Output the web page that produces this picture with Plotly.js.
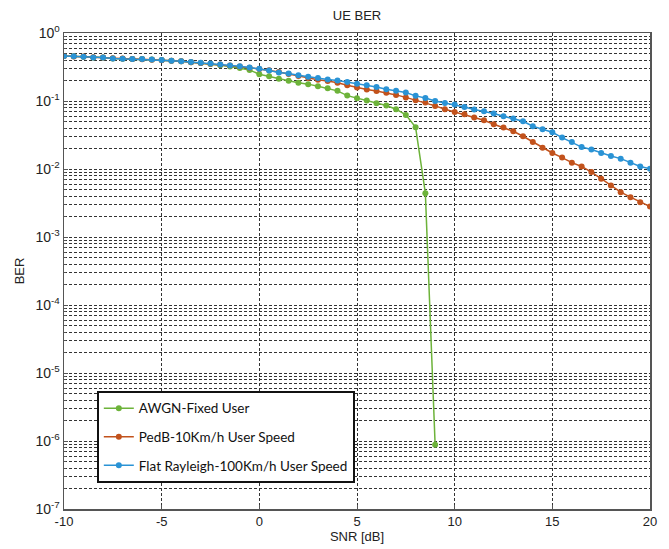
<!DOCTYPE html>
<html>
<head>
<meta charset="utf-8">
<script src="https://cdn.plot.ly/plotly-3.0.1.min.js"></script>
<style>html,body{margin:0;padding:0;background:#fff;}#chart{width:669px;height:549px;}</style>
</head>
<body>
<div id="chart"></div>
<script>
// SNR axis (dB)
const snr = [-10,-9.5,-9,-8.5,-8,-7.5,-7,-6.5,-6,-5.5,-5,-4.5,-4,-3.5,-3,-2.5,-2,-1.5,-1,-0.5,
  0,0.5,1,1.5,2,2.5,3,3.5,4,4.5,5,5.5,6,6.5,7,7.5,8,8.5,9,9.5,
  10,10.5,11,11.5,12,12.5,13,13.5,14,14.5,15,15.5,16,16.5,17,17.5,18,18.5,19,19.5,20];
const snrAwgn = [-10,-9.5,-9,-8.5,-8,-7.5,-7,-6.5,-6,-5.5,-5,-4.5,-4,-3.5,-3,-2.5,-2,-1.5,-1,-0.5,
  0,0.5,1,1.5,2,2.5,3,3.5,4,4.5,5,5.5,6,6.5,7,7.5,8,8.5,9];

const berAwgn = [0.458,0.455,0.447,0.438,0.436,0.423,0.418,0.416,0.414,0.409,0.400,0.390,0.383,0.372,0.362,0.350,0.335,0.322,0.305,0.285,
  0.248,0.232,0.212,0.198,0.185,0.177,0.165,0.154,0.141,0.120,0.110,0.102,0.093,0.086,0.0757,0.0625,0.041,0.0044,8.8e-7];

const berPedB = [0.460,0.452,0.452,0.440,0.435,0.425,0.420,0.416,0.410,0.405,0.398,0.392,0.385,0.372,0.362,0.352,0.343,0.332,0.322,0.308,
  0.295,0.283,0.266,0.250,0.233,0.217,0.205,0.197,0.186,0.171,0.158,0.148,0.140,0.132,0.123,0.113,0.103,0.0951,0.0847,0.0757,
  0.0691,0.0639,0.0571,0.0521,0.0455,0.0407,0.0359,0.0303,0.0249,0.0206,0.0172,0.0147,0.0124,0.0109,0.0090,0.00719,0.00573,0.00456,0.00385,0.00325,0.00281];

const berFlat = [0.458,0.455,0.447,0.438,0.436,0.423,0.418,0.416,0.414,0.409,0.400,0.390,0.383,0.373,0.365,0.357,0.345,0.334,0.325,0.310,
  0.297,0.280,0.262,0.254,0.239,0.227,0.217,0.207,0.200,0.190,0.179,0.170,0.161,0.149,0.141,0.133,0.119,0.111,0.100,0.0937,
  0.0887,0.0818,0.0749,0.0707,0.0654,0.0597,0.0552,0.0504,0.0425,0.0384,0.0347,0.0290,0.0249,0.0210,0.0193,0.0172,0.0155,0.0142,0.0124,0.0109,0.0101];

const seriesNames = ['AWGN-Fixed User','PedB-10Km/h User Speed','Flat Rayleigh-100Km/h User Speed'];
const xTicks = [-10,-5,0,5,10,15,20];
const yTickVals = [1,1e-1,1e-2,1e-3,1e-4,1e-5,1e-6,1e-7];
const yTickText = ['10<sup>0</sup>','10<sup>-1</sup>','10<sup>-2</sup>','10<sup>-3</sup>','10<sup>-4</sup>','10<sup>-5</sup>','10<sup>-6</sup>','10<sup>-7</sup>'];

const minorVals = [];
for (let e = -7; e < 0; e++) for (let m = 2; m <= 9; m++) minorVals.push(m * Math.pow(10, e));

const colors = ['#6db33a','#c2521c','#2a93d5'];
function tr(x, y, i) {
  return {x: x, y: y, name: seriesNames[i], type: 'scatter', mode: 'lines+markers',
    legendgroup: 'g' + i,
    line: {color: colors[i], width: 1.5}, marker: {color: colors[i], size: 6, symbol: 'circle'}};
}
const data = [tr(snrAwgn, berAwgn, 0), tr(snr, berPedB, 1), tr(snr, berFlat, 2)];

const gridStyle = '3px,2px';
const gridColor = '#333';
const layout = {
  width: 669, height: 549,
  margin: {l: 64, r: 19, t: 33, b: 40},
  paper_bgcolor: '#fff', plot_bgcolor: '#fff',
  font: {family: 'Liberation Sans, Arial, sans-serif', size: 12, color: '#222'},
  title: {text: 'UE BER', x: 0.5, xref: 'paper', xanchor: 'center', y: 0.972, yanchor: 'middle', font: {size: 13, color: '#222'}},
  xaxis: {
    range: [-10, 20], tickmode: 'array', tickvals: xTicks, ticktext: xTicks.map(String),
    showgrid: true, gridcolor: gridColor, griddash: gridStyle, gridwidth: 1,
    showline: true, linecolor: '#555', linewidth: 1.5, mirror: true,
    ticks: 'inside', ticklen: 4, tickcolor: '#555', zeroline: false,
    title: {text: 'SNR [dB]', standoff: 4, font: {size: 13}},
    tickfont: {size: 13}
  },
  yaxis: {
    type: 'log', range: [-7, 0], tickmode: 'array', tickvals: yTickVals, ticktext: yTickText,
    showgrid: true, gridcolor: gridColor, griddash: gridStyle, gridwidth: 1,
    showline: true, linecolor: '#555', linewidth: 1.5, mirror: true,
    ticks: 'inside', ticklen: 4, tickcolor: '#555', zeroline: false,
    minor: {tickmode: 'array', tickvals: minorVals, showgrid: true, gridcolor: gridColor, griddash: gridStyle, gridwidth: 1, ticks: 'inside', ticklen: 2, tickcolor: '#555'},
    title: {text: 'BER', standoff: 8, font: {size: 13}},
    tickfont: {size: 14}
  },
  showlegend: true,
  legend: {
    x: 0.056, y: 0.248, xanchor: 'left', yanchor: 'top',
    bgcolor: '#fff', bordercolor: '#111', borderwidth: 2,
    font: {family: 'Lato, Open Sans, sans-serif', size: 13.5, color: '#111'},
    itemwidth: 30,
    tracegroupgap: 8, traceorder: 'grouped'
  }
};
Plotly.newPlot('chart', data, layout, {displayModeBar: false, staticPlot: true});
</script>
</body>
</html>
